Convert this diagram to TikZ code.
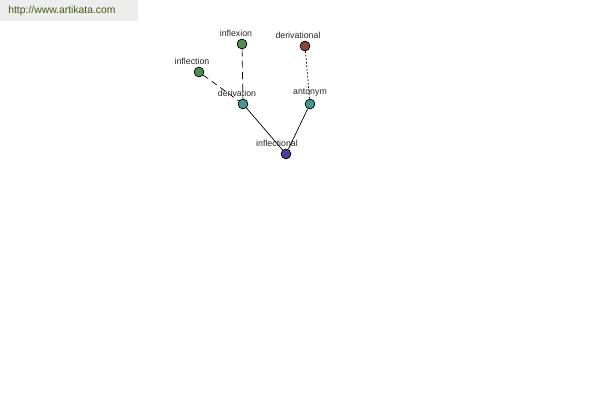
\documentclass[tikz,border=0pt]{standalone}
\usepackage{fontspec}
\setmainfont{Liberation Sans}
\usepackage{tikz}

\definecolor{greenn}{RGB}{82,140,82}
\definecolor{redn}{RGB}{140,68,58}
\definecolor{tealn}{RGB}{70,150,150}
\definecolor{bluen}{RGB}{66,66,150}
\definecolor{linkc}{RGB}{70,90,20}

\begin{document}
\begin{tikzpicture}[x=0.02cm, y=-0.02cm, every node/.style={font=\fontsize{5}{6}\selectfont},
	w/.style 2 args={draw, circle, minimum size=5.6pt, inner sep=0pt, line width=0.4pt,
		label={[inner sep=1pt, xshift=#2, text=black!85]above:#1}}]
	\useasboundingbox (0,0) rectangle (600,400);
	\fill[black!7] (0,0) rectangle (138,21);
	\node[anchor=west, inner sep=0pt, text=linkc, font=\fontsize{5.9}{7}\selectfont] (site) at (8,10.5) {http://www.artikata.com};
	\node[w={inflexion}{-0.12cm}, fill=greenn] (inflexion) at (242,44) {};
	\node[w={derivational}{-0.14cm}, fill=redn] (derivational) at (305,46) {};
	\node[w={inflection}{-0.14cm}, fill=greenn] (inflection) at (199,72) {};
	\node[w={derivation}{-0.12cm}, fill=tealn] (derivation) at (243,104) {};
	\node[w={antonym}{0cm}, fill=tealn] (antonym) at (310,104) {};
	\node[w={inflectional}{-0.18cm}, fill=bluen] (inflectional) at (286,154) {};
	\draw[dash pattern=on 3.5pt off 2.5pt] (inflection) -- (derivation);
	\draw[dash pattern=on 4pt off 2.5pt] (inflexion) -- (derivation);
	\draw[dash pattern=on 1pt off 1pt] (derivational) -- (antonym);
	\draw (derivation) -- (inflectional);
	\draw (antonym) -- (inflectional);
\end{tikzpicture}
\end{document}
